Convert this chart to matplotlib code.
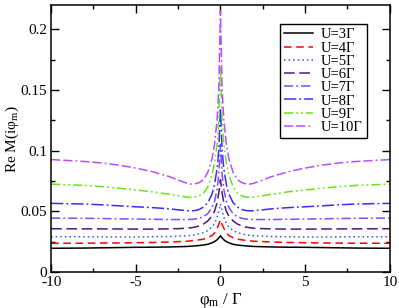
import numpy as np
import matplotlib
matplotlib.use("Agg")
import matplotlib.pyplot as plt
from matplotlib.ticker import MultipleLocator

plt.rcParams['font.family'] = ['Liberation Serif', 'DejaVu Serif']
plt.rcParams['mathtext.fontset'] = 'stix'

# x >= 0 half of each curve (curves are symmetric in phi_m)
x_half = [0, 0.1, 0.2, 0.35, 0.5, 0.75, 1.0, 1.25, 1.5, 1.75, 2, 2.5, 3, 4, 5, 6, 7, 8, 10]

u3 = [0.0298, 0.028, 0.0265, 0.025, 0.024, 0.0228, 0.0222, 0.0218, 0.0215, 0.0212, 0.0210, 0.0208, 0.0206, 0.0204, 0.0203, 0.0201, 0.0199, 0.0197, 0.0195]
u4 = [0.043, 0.039, 0.036, 0.032, 0.030, 0.0282, 0.027, 0.0265, 0.026, 0.0256, 0.0253, 0.025, 0.0247, 0.0243, 0.0241, 0.0239, 0.0238, 0.0237, 0.0236]
u5 = [0.056, 0.050, 0.045, 0.040, 0.037, 0.034, 0.0325, 0.0314, 0.0305, 0.0301, 0.0298, 0.0295, 0.0292, 0.029, 0.0288, 0.0288, 0.0289, 0.029, 0.029]
u6 = [0.076, 0.065, 0.057, 0.050, 0.046, 0.042, 0.0395, 0.038, 0.037, 0.0364, 0.036, 0.0357, 0.0355, 0.0353, 0.0353, 0.0354, 0.0355, 0.0355, 0.0356]
u7 = [0.105, 0.080, 0.068, 0.058, 0.053, 0.048, 0.0455, 0.0443, 0.0436, 0.0433, 0.0432, 0.0432, 0.0432, 0.0434, 0.0436, 0.0438, 0.044, 0.0442, 0.0444]
u8 = [0.135, 0.100, 0.085, 0.072, 0.064, 0.057, 0.0535, 0.0515, 0.0506, 0.0503, 0.0505, 0.0512, 0.052, 0.053, 0.0537, 0.0545, 0.0553, 0.056, 0.0565]
u9 = [0.170, 0.125, 0.105, 0.090, 0.080, 0.070, 0.065, 0.0628, 0.0617, 0.0614, 0.0617, 0.0628, 0.064, 0.066, 0.0675, 0.069, 0.0703, 0.0713, 0.0724]
u10 = [0.215, 0.150, 0.125, 0.105, 0.093, 0.082, 0.076, 0.0737, 0.0726, 0.0724, 0.0732, 0.0757, 0.0785, 0.0826, 0.0856, 0.088, 0.0898, 0.091, 0.0926]

labels = ['U=3Γ', 'U=4Γ', 'U=5Γ', 'U=6Γ', 'U=7Γ', 'U=8Γ', 'U=9Γ', 'U=10Γ']
colors = ['black', '#ff0000', '#3355ff', '#4b1a7a', '#7a4dff', '#3b2bff', '#66e61a', '#b84dff']
styles = ['-', (0, (5, 3)), (0, (1, 2)), (0, (7, 3)),
          (0, (6, 2, 1.2, 2)), (0, (8, 2, 1.2, 2)),
          (0, (6, 2, 1.2, 2, 1.2, 2)), (0, (6, 2, 6, 2, 1.2, 2))]


def full(vals):
    xs = np.array(x_half)
    ys = np.array(vals)
    return np.concatenate([-xs[::-1], xs[1:]]), np.concatenate([ys[::-1], ys[1:]])


fig = plt.figure(figsize=(3.99, 3.08), dpi=100)
ax = fig.add_axes([0.128, 0.117, 0.849, 0.867])

for vals, lab, c, ls in zip([u3, u4, u5, u6, u7, u8, u9, u10], labels, colors, styles):
    x, y = full(vals)
    ax.plot(x, y, color=c, linestyle=ls, lw=1.1, label=lab)

ax.set_xlim(-10, 10)
ax.set_ylim(0, 0.22)
ax.xaxis.set_minor_locator(MultipleLocator(2.5))
ax.yaxis.set_minor_locator(MultipleLocator(0.025))
ax.set_yticks([0, 0.05, 0.1, 0.15, 0.2])
ax.set_yticklabels(['0', '0.05', '0.1', '0.15', '0.2'])
ax.set_xticks([-10, -5, 0, 5, 10])
ax.set_xticklabels(['-10', '-5', '0', '5', '10'])
ax.tick_params(which='both', direction='in', top=True, right=True, labelsize=11, width=1.0)
ax.tick_params(which='major', length=6, pad=3)
ax.tick_params(which='minor', length=3)
for s in ax.spines.values():
    s.set_linewidth(1.1)

ax.set_xlabel(r'φ$_\mathregular{m}$ / Γ', fontsize=12, labelpad=1)
ax.set_ylabel(r'Re M(iφ$_\mathregular{m}$)', fontsize=11)
ax.yaxis.set_label_coords(-0.09, 0.5)

leg = ax.legend(loc='upper right', bbox_to_anchor=(0.932, 0.929), fontsize=10.5,
                frameon=True, fancybox=False, edgecolor='black', framealpha=1,
                handlelength=2.0, handletextpad=0.5, labelspacing=0.0,
                borderpad=0.3, borderaxespad=0)
leg.get_frame().set_linewidth(1.0)

fig.savefig('out.png', dpi=100)
